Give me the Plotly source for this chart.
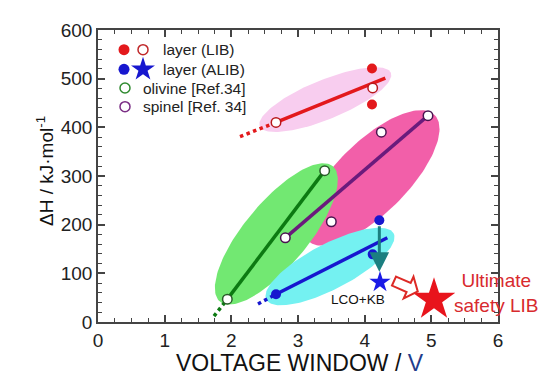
import numpy as np
import plotly.graph_objects as go

# ---------------- data ----------------
x_ticks = [0, 1, 2, 3, 4, 5, 6]
y_ticks = [0, 100, 200, 300, 400, 500, 600]

# layer (LIB)
lib_line_x = [2.67, 4.31]
lib_line_y = [410, 501]
lib_dot_x = [2.13, 2.67]
lib_dot_y = [381, 410]
lib_open_x = [2.67, 4.12]
lib_open_y = [410, 481]
lib_filled_x = [4.11, 4.11]
lib_filled_y = [521, 447]

# spinel [Ref. 34]
spinel_x = [2.81, 3.50, 4.25, 4.95]
spinel_y = [173, 206, 390, 424]
spinel_line_x = [2.81, 4.95]
spinel_line_y = [173, 424]

# olivine [Ref.34]
olivine_x = [1.94, 3.40]
olivine_y = [47, 311]
olivine_dot_x = [1.74, 1.94]
olivine_dot_y = [12, 47]

# layer (ALIB)
alib_line_x = [2.67, 4.34]
alib_line_y = [57, 173]
alib_dot_x = [2.40, 2.67]
alib_dot_y = [37, 57]
alib_filled_x = [2.67, 4.22, 4.12]
alib_filled_y = [57, 209, 139]
alib_star_x = [4.23]
alib_star_y = [82]

# ultimate safety LIB star
ult_x = [5.04]
ult_y = [46]

# ---------------- geometry helpers ----------------
W, H = 550, 376
ML, MR, MT, MB = 90, 60, 17, 62
PW, PH = W - ML - MR, H - MT - MB
X_RANGE = [0, 6]
Y_RANGE = [0, 600]
SX = PW / (X_RANGE[1] - X_RANGE[0])
SY = PH / (Y_RANGE[1] - Y_RANGE[0])


def ellipse(cx, cy, half_len, half_w, ang_deg, n=160):
    th = np.radians(ang_deg)
    t = np.linspace(0, 2 * np.pi, n)
    px = half_len * np.cos(t) * np.cos(th) - half_w * np.sin(t) * np.sin(th)
    py = half_len * np.cos(t) * np.sin(th) + half_w * np.sin(t) * np.cos(th)
    return cx + px / SX, cy + py / SY


# ellipse specs: center (data), half length px, half width px, angle deg, colour
ellipses = [
    (3.41, 457, 71, 20, 22.6, "#f8cdef"),   # LIB
    (4.10, 296, 90, 36, 45.4, "#f25fa9"),   # spinel
    (2.675, 181, 89, 32, 50.8, "#72e872"),  # olivine
    (3.48, 114, 72, 23, 28.0, "#74f1f1"),   # ALIB
]

FONT = "Arial, Liberation Sans, sans-serif"
fig = go.Figure()

for cx, cy, a, b, ang, col in ellipses:
    ex, ey = ellipse(cx, cy, a, b, ang)
    fig.add_trace(go.Scatter(x=ex, y=ey, mode="lines", fill="toself",
                             fillcolor=col, line=dict(width=0, color=col),
                             hoverinfo="skip", showlegend=False))

RED, PURPLE, GREEN, BLUE = "#e3191c", "#6a1b7c", "#0c7a12", "#1717cf"


def line(x, y, col, dash="solid", w=3.5):
    fig.add_trace(go.Scatter(x=x, y=y, mode="lines",
                             line=dict(color=col, width=w, dash=dash),
                             showlegend=False, hoverinfo="skip"))


line(lib_dot_x, lib_dot_y, RED, "dot", 3.5)
line(lib_line_x, lib_line_y, RED)
line(spinel_line_x, spinel_line_y, PURPLE)
line(olivine_dot_x, olivine_dot_y, GREEN, "dot", 3.5)
line(olivine_x, olivine_y, GREEN)
line(alib_dot_x, alib_dot_y, BLUE, "dot", 3.5)
line(alib_line_x, alib_line_y, BLUE)

# teal arrow
fig.add_annotation(x=4.22, y=103, ax=4.22, ay=200, xref="x", yref="y",
                   axref="x", ayref="y", showarrow=True, text="",
                   arrowcolor="#1b7f80", arrowwidth=3, arrowhead=2,
                   arrowsize=1.3)


def pts(x, y, col, fill, size=9.5, sym="circle", lw=1.5):
    fig.add_trace(go.Scatter(x=x, y=y, mode="markers",
                             marker=dict(symbol=sym, size=size, color=fill,
                                         line=dict(color=col, width=lw)),
                             showlegend=False, hoverinfo="skip",
                             cliponaxis=False))


pts(lib_open_x, lib_open_y, "#b8181c", "white")
pts(lib_filled_x, lib_filled_y, RED, RED, 10, lw=0)
pts(spinel_x, spinel_y, "#4a1450", "white")
pts(olivine_x, olivine_y, "#2a5a2a", "white")
pts(alib_filled_x, alib_filled_y, BLUE, BLUE, 10, lw=0)
pts(alib_star_x, alib_star_y, "#1a1ae6", "#1a1ae6", 16, "star", 0)
pts(ult_x, ult_y, "#e8141c", "#e8141c", 32, "star", 0)

# hollow block arrow
tail_x, tail_y = 4.44, 84
ang = np.radians(-24)
L, hl, sw, hw = 26, 10, 5, 12
local = [(0, sw), (L - hl, sw), (L - hl, hw), (L, 0), (L - hl, -hw), (L - hl, -sw), (0, -sw)]
ux, uy = np.cos(ang), np.sin(ang)
nx, ny = -np.sin(ang), np.cos(ang)
path = ""
for i, (s, q) in enumerate(local):
    px = s * ux + q * nx
    py = s * uy + q * ny
    dx, dy = tail_x + px / SX, tail_y + py / SY
    path += ("M" if i == 0 else "L") + f"{dx:.4f},{dy:.4f} "
path += "Z"
fig.add_shape(type="path", path=path, xref="x", yref="y",
              line=dict(color="#dd2a26", width=2), fillcolor="white")

# text annotations
fig.add_annotation(x=3.90, y=47, xref="x", yref="y", text="LCO+KB",
                   showarrow=False, font=dict(family=FONT, size=13.5, color="#111"))
fig.add_annotation(x=5.97, y=60, xref="x", yref="y",
                   text="Ultimate<br>safety LIB", showarrow=False,
                   font=dict(family=FONT, size=19, color="#d82a2e"),
                   align="center")

# legend on overlay axes
leg_marks = [
    (116, 37, "circle", RED, RED, 11, 0),
    (135, 37, "circle", "white", "#c0282a", 10, 1.5),
    (116, 57, "circle", BLUE, BLUE, 11, 0),
    (135, 57, "star", BLUE, BLUE, 18, 0),
    (117, 76, "circle", "white", "#2f8a2f", 10, 1.5),
    (117, 95, "circle", "white", "#7a2d84", 10, 1.5),
]
leg_texts = [
    (153, 37, "layer (LIB)"),
    (153, 57, "layer (ALIB)"),
    (133, 76, "olivine [Ref.34]"),
    (133, 95, "spinel [Ref. 34]"),
]
for px, py, sym, fill, col, size, lw in leg_marks:
    fig.add_trace(go.Scatter(x=[(px - ML) / PW], y=[(MT + PH - py) / PH],
                             xaxis="x2", yaxis="y2", mode="markers",
                             marker=dict(symbol=sym, size=size, color=fill,
                                         line=dict(color=col, width=lw)),
                             showlegend=False, hoverinfo="skip"))
for px, py, txt in leg_texts:
    fig.add_annotation(x=(px - ML) / PW, y=(MT + PH - py) / PH, xref="x2 domain",
                       yref="y2 domain", text=txt, showarrow=False,
                       xanchor="left", yanchor="middle",
                       font=dict(family=FONT, size=15.5, color="#222"))

# axis titles
fig.add_annotation(x=0.5, y=0, xref="paper", yref="paper", yshift=-41,
                   xshift=1.5, text="VOLTAGE WINDOW / <span style='color:#1f3d8c'>V</span>",
                   showarrow=False, yanchor="middle",
                   font=dict(family=FONT, size=23, color="#111"))
fig.add_annotation(x=0, y=0.5, xref="paper", yref="paper", xshift=-53,
                   yshift=5, text="ΔH / kJ·mol<sup>-1</sup>", textangle=-90,
                   showarrow=False, xanchor="center", yanchor="middle",
                   font=dict(family=FONT, size=19, color="#111"))

axis_common = dict(showgrid=False, zeroline=False, showline=True,
                   linecolor="#444", linewidth=1.5, mirror="ticks",
                   ticks="inside", ticklen=7, tickwidth=1.5, tickcolor="#444",
                   tickfont=dict(family=FONT, size=19, color="#222"))
fig.update_layout(
    width=W, height=H,
    margin=dict(l=ML, r=MR, t=MT, b=MB),
    paper_bgcolor="white", plot_bgcolor="white",
    showlegend=False,
    xaxis=dict(range=X_RANGE, tickvals=x_ticks, ticktext=[str(v) for v in x_ticks],
               minor=dict(dtick=0.25, ticks="inside", ticklen=4, tickwidth=1.2,
                          tickcolor="#444"),
               **axis_common),
    yaxis=dict(range=Y_RANGE, tickvals=y_ticks, ticktext=[str(v) for v in y_ticks],
               minor=dict(dtick=20, ticks="inside", ticklen=4, tickwidth=1.2,
                          tickcolor="#444"),
               **axis_common),
    xaxis2=dict(range=[0, 1], overlaying="x", visible=False, anchor="y2"),
    yaxis2=dict(range=[0, 1], overlaying="y", visible=False, anchor="x2"),
)

fig.write_html("out.html")
